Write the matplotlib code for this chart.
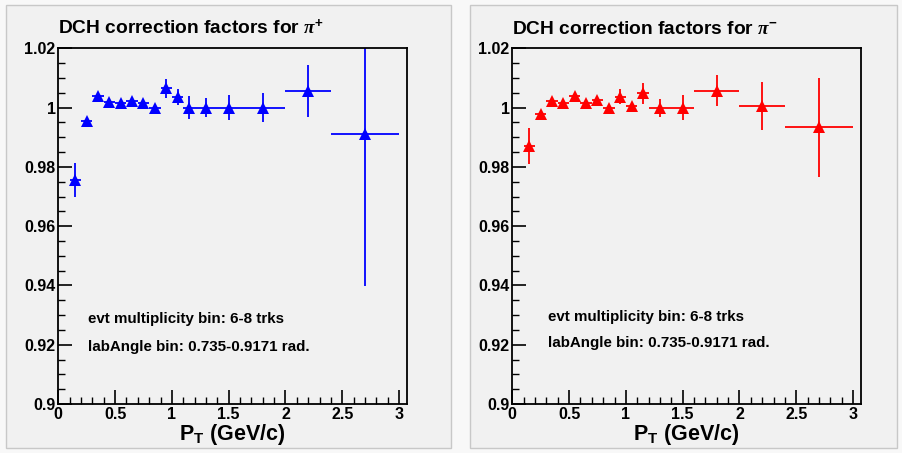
import numpy as np
import matplotlib.pyplot as plt
from matplotlib.patches import Rectangle
from matplotlib.ticker import MultipleLocator

plt.rcParams['font.family'] = ['Liberation Sans', 'DejaVu Sans']
plt.rcParams['font.weight'] = 'bold'
plt.rcParams['axes.labelweight'] = 'bold'
plt.rcParams['mathtext.fontset'] = 'custom'
plt.rcParams['mathtext.rm'] = 'Liberation Sans:bold'
plt.rcParams['mathtext.bf'] = 'Liberation Sans:bold'
plt.rcParams['mathtext.it'] = 'Liberation Serif:italic'

# bin centres and half widths (GeV/c)
pt = [0.15, 0.25, 0.35, 0.45, 0.55, 0.65, 0.75, 0.85, 0.95, 1.05,
      1.15, 1.3, 1.5, 1.8, 2.2, 2.7]
pt_err = [0.05, 0.05, 0.05, 0.05, 0.05, 0.05, 0.05, 0.05, 0.05, 0.05,
          0.05, 0.1, 0.1, 0.2, 0.2, 0.3]

# pi+ correction factors
corr_plus = [0.9756, 0.9955, 1.0039, 1.0018, 1.0014, 1.0021, 1.0015, 0.9998,
             1.0065, 1.0036, 1.0000, 1.0000, 1.0000, 1.0000, 1.0056, 0.9911]
corr_plus_err = [0.0056, 0.0010, 0.0010, 0.0010, 0.0010, 0.0010, 0.0010, 0.0010,
                 0.0031, 0.0028, 0.0038, 0.0032, 0.0043, 0.0048, 0.0088, 0.0513]

# pi- correction factors
corr_minus = [0.9870, 0.9978, 1.0022, 1.0014, 1.0040, 1.0017, 1.0026, 0.9999,
              1.0037, 1.0005, 1.0048, 0.9998, 1.0000, 1.0057, 1.0005, 0.9933]
corr_minus_err = [0.0062, 0.0010, 0.0010, 0.0010, 0.0012, 0.0010, 0.0010, 0.0010,
                  0.0025, 0.0014, 0.0035, 0.0031, 0.0043, 0.0052, 0.0080, 0.0166]

W, H = 902, 453
fig = plt.figure(figsize=(W / 100, H / 100), dpi=100, facecolor='#f8f8f8')

def px_rect(x0, y0, x1, y1):
    # pixel box (top-left origin) -> figure fraction
    return [x0 / W, 1 - y1 / H, (x1 - x0) / W, (y1 - y0) / H]

# grey canvas panels
for x0, x1 in [(6, 451), (470, 897)]:
    fig.patches.append(Rectangle((x0 / W, 1 - 448 / H), (x1 - x0) / W, 443 / H,
                                 transform=fig.transFigure, facecolor='#f1f1f1',
                                 edgecolor='#c8c8c8', linewidth=1.0, zorder=-5))

panels = [
    dict(box=(58.3, 48.3, 407, 404), y=corr_plus, yerr=corr_plus_err, color='#0000ff',
         title=r'DCH correction factors for $\pi^{+}$', tx=0.26, ty=(0.9287, 0.9193)),
    dict(box=(512.3, 48.3, 861, 404), y=corr_minus, yerr=corr_minus_err, color='#ff0000',
         title=r'DCH correction factors for $\pi^{-}$', tx=0.31, ty=(0.9295, 0.9205)),
]

for p in panels:
    ax = fig.add_axes(px_rect(*p['box']))
    ax.set_facecolor('#f1f1f1')
    ax.errorbar(pt, p['y'], xerr=pt_err, yerr=p['yerr'], fmt='^', color=p['color'],
                markersize=9, elinewidth=1.3, capsize=0, markeredgewidth=0)
    ax.set_xlim(0, 3.07)
    ax.set_ylim(0.9, 1.02)
    ax.xaxis.set_minor_locator(MultipleLocator(0.1))
    ax.yaxis.set_minor_locator(MultipleLocator(0.005))
    ax.set_xticks([0, 0.5, 1, 1.5, 2, 2.5, 3])
    ax.set_xticklabels(['0', '0.5', '1', '1.5', '2', '2.5', '3'], fontweight='bold')
    ax.set_yticks([0.9, 0.92, 0.94, 0.96, 0.98, 1.0, 1.02])
    ax.set_yticklabels(['0.9', '0.92', '0.94', '0.96', '0.98', '1', '1.02'],
                       fontweight='bold')
    ax.tick_params(which='major', direction='in', length=10, width=1.2,
                   labelsize=11.5, pad=2, top=False, right=False)
    ax.tick_params(which='minor', direction='in', length=5, width=1.0,
                   top=False, right=False)
    for s in ax.spines.values():
        s.set_linewidth(1.3)
    ax.set_xlabel(r'$\mathbf{P_{T}}$ (GeV/c)', fontsize=15.5, fontweight='bold', labelpad=0)
    ax.text(0, 1.0249, p['title'], fontsize=13.8, fontweight='bold',
            ha='left', va='baseline')
    ax.text(p['tx'], p['ty'][0], 'evt multiplicity bin: 6-8 trks', fontsize=10.9,
            fontweight='bold', va='center')
    ax.text(p['tx'], p['ty'][1], 'labAngle bin: 0.735-0.9171 rad.', fontsize=10.9,
            fontweight='bold', va='center')

fig.savefig('out.png', dpi=100, facecolor=fig.get_facecolor())
